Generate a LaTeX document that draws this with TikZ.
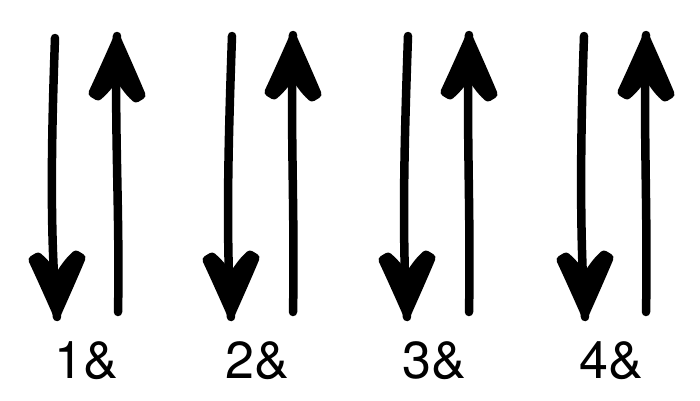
\documentclass[tikz,border=0pt]{standalone}
\usepackage{fontspec}
\setmainfont{TeX Gyre Heros}
\tikzset{
  hand/.style={line width=8.5pt, line cap=round, line join=round},
  head/.pic={\filldraw[line width=9pt, line join=round]
     (0,-4) .. controls (-8,-22) and (-16,-40) .. (-24,-57) -- (-19,-60)
     .. controls (-10,-52) and (-4,-44) .. (0,-36)
     .. controls (4,-44) and (10,-54) .. (19,-62) -- (24,-59)
     .. controls (16,-40) and (8,-22) .. cycle;},
  lbl/.style={font=\fontsize{52}{52}\selectfont, inner sep=0pt, anchor=base}
}
\begin{document}
\begin{tikzpicture}[x=1pt,y=-1pt]
\useasboundingbox (0,0) rectangle (700,400);
% pair 1
\coordinate (d1s) at (55,38);  \coordinate (d1e) at (57,317);
\coordinate (u1s) at (118,312); \coordinate (u1e) at (117,36);
\draw[hand] (d1s) .. controls (51,150) and (50,240) .. (d1e);
\pic at (d1e) {head};
\draw[hand] (u1s) .. controls (120,220) and (114,120) .. (u1e);
\pic[yscale=-1] at (u1e) {head};
% pair 2
\coordinate (d2s) at (232,36);  \coordinate (d2e) at (231,317);
\coordinate (u2s) at (293,312); \coordinate (u2e) at (293,35);
\draw[hand] (d2s) .. controls (228,150) and (226,240) .. (d2e);
\pic at (d2e) {head};
\draw[hand] (u2s) .. controls (295,220) and (290,120) .. (u2e);
\pic[yscale=-1] at (u2e) {head};
% pair 3
\coordinate (d3s) at (408,36);  \coordinate (d3e) at (407,317);
\coordinate (u3s) at (469,312); \coordinate (u3e) at (469,35);
\draw[hand] (d3s) .. controls (404,150) and (402,240) .. (d3e);
\pic at (d3e) {head};
\draw[hand] (u3s) .. controls (471,220) and (466,120) .. (u3e);
\pic[yscale=-1] at (u3e) {head};
% pair 4
\coordinate (d4s) at (584,36);  \coordinate (d4e) at (585,317);
\coordinate (u4s) at (646,312); \coordinate (u4e) at (646,35);
\draw[hand] (d4s) .. controls (580,150) and (580,240) .. (d4e);
\pic at (d4e) {head};
\draw[hand] (u4s) .. controls (648,220) and (643,120) .. (u4e);
\pic[yscale=-1] at (u4e) {head};
% labels
\node[lbl] (l1) at (86,378) {1\&};
\node[lbl] (l2) at (257,378) {2\&};
\node[lbl] (l3) at (434,378) {3\&};
\node[lbl] (l4) at (611,378) {4\&};
\end{tikzpicture}
\end{document}
